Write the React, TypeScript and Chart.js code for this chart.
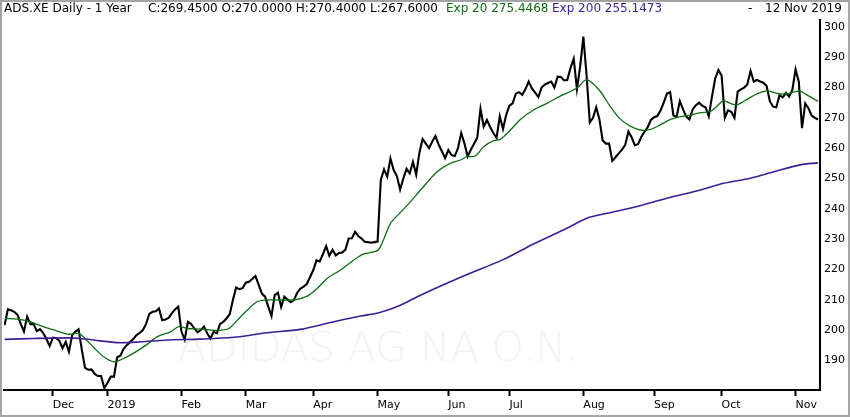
import React, { useEffect, useRef } from "react";
import { Chart, registerables } from "chart.js";

Chart.register(...registerables);

// Daily close, one value per trading day (12 Nov 2018 .. 12 Nov 2019)
const closeValues: number[] = [
  201.6, 206.8, 206.5, 206.0, 205.0, 202.0, 199.5, 204.4, 201.9, 202.0,
  199.6, 200.3, 199.0, 197.0, 194.7, 197.5, 197.3, 196.5, 194.0, 196.1,
  192.8, 198.3, 199.5, 200.2, 193.5, 187.5, 186.9, 187.0, 185.5, 184.8,
  184.8, 180.8, 182.6, 184.6, 184.6, 191.0, 191.5, 193.8, 195.0, 196.0,
  197.0, 198.3, 199.0, 200.0, 202.0, 205.3, 206.0, 206.2, 207.1, 203.2,
  203.5, 204.0, 205.5, 206.8, 207.7, 199.5, 196.8, 202.7, 202.0, 200.5,
  199.2, 200.0, 201.1, 198.9, 197.2, 199.4, 198.9, 202.0, 202.7, 203.8,
  205.2, 209.9, 214.0, 213.5, 213.8, 215.6, 215.9, 216.8, 217.8, 215.0,
  212.0, 211.0, 207.7, 204.6, 211.5, 212.3, 207.6, 211.0, 210.0, 209.2,
  210.0, 212.3, 213.7, 214.3, 215.2, 217.5, 219.8, 223.0, 222.6, 225.0,
  227.7, 224.5, 226.5, 224.6, 225.4, 225.6, 226.5, 230.2, 230.3, 232.4,
  231.0, 230.2, 229.1, 229.0, 228.8, 229.0, 229.2, 249.5, 253.0, 250.6,
  256.6, 252.8, 250.8, 246.3, 250.0, 253.2, 251.7, 255.5, 251.3, 258.5,
  263.0, 261.5, 260.0, 262.2, 264.0, 261.1, 259.0, 256.7, 259.4, 257.7,
  257.4, 260.0, 265.0, 261.6, 257.3, 259.5, 261.5, 263.5, 273.0, 267.1,
  269.3, 267.0, 265.0, 263.4, 270.5, 266.3, 271.0, 274.0, 274.8, 278.0,
  278.5, 277.6, 279.5, 282.0, 279.7, 278.3, 276.9, 280.0, 281.0, 281.5,
  282.0, 280.0, 283.6, 283.5, 282.4, 282.5, 286.5, 289.5, 279.5, 286.9,
  296.8, 284.0, 268.5, 270.0, 273.5, 269.5, 262.5, 261.5, 261.5, 255.8,
  257.0, 258.3, 259.5, 261.0, 265.5, 263.6, 261.0, 261.3, 263.7, 265.4,
  266.9, 269.3, 270.2, 270.6, 272.4, 275.0, 278.0, 278.5, 270.8, 270.4,
  275.5, 272.8, 270.4, 269.5, 272.8, 274.2, 275.0, 274.0, 273.5, 270.5,
  277.0, 283.0, 285.8, 284.0, 270.0, 272.5, 272.0, 270.0, 278.7, 279.4,
  280.0, 281.0, 285.5, 282.0, 282.5, 282.0, 281.6, 280.5, 275.5, 273.7,
  273.5, 277.5, 276.8, 278.2, 277.0, 279.2, 286.0, 282.0, 266.6, 274.8,
  273.2, 270.8, 270.0, 269.45,
];

// Exp 20 line, read at these trading-day positions
const ema20Index: number[] = [
  0, 4, 8, 12, 16, 20, 23, 25, 28, 31, 34, 36, 40, 44, 47.5, 51.6, 54.2, 57,
  61, 66, 69.7, 73.4, 78.5, 81.7, 85.8, 89.9, 94.1, 97.2, 100.3, 104.5, 108.6,
  111.7, 115.9, 117.4, 120, 123.1, 126.2, 129.3, 134.5, 138.6, 141.8, 143.8,
  146.4, 149, 152.1, 154.2, 157.3, 160.4, 164.5, 168.7, 172.8, 176, 178.5,
  180.6, 182.2, 185.3, 188.4, 191.5, 194.6, 197.7, 200.8, 203.9, 207.1, 210.2,
  213.3, 216.4, 219.5, 221.6, 223.6, 225.7, 227.8, 230.9, 234, 237.1, 240.2,
  243.3, 247.3, 249.5, 253,
];
const ema20Values: number[] = [
  203.8, 203.6, 202.7, 201.1, 199.8, 198.6, 198.9, 197.2, 193.9, 191.0, 189.5,
  190.1, 192.3, 195.0, 197.8, 199.4, 201.1, 200.5, 200.3, 199.9, 200.5, 204.4,
  209.3, 209.9, 209.9, 209.9, 211.2, 213.7, 217.0, 219.8, 223.1, 225.1, 226.2,
  228.6, 235.2, 238.8, 242.3, 246.1, 252.2, 255.0, 256.1, 257.2, 257.4, 260.5,
  262.5, 262.9, 266.0, 269.5, 272.6, 274.8, 277.2, 278.7, 280.3, 282.5, 282.0,
  278.7, 273.7, 269.6, 267.3, 266.0, 266.2, 267.7, 269.5, 270.4, 270.9, 271.7,
  272.1, 273.9, 275.7, 274.8, 274.3, 276.1, 277.9, 278.9, 278.1, 277.9, 278.9,
  277.6, 275.45,
];

// Exp 200 line, read at these trading-day positions
const ema200Index: number[] = [
  0, 9, 19.5, 23.6, 29.8, 36, 42.3, 50.6, 61, 71.3, 81.7, 92, 102.4, 110.7,
  116.4, 123.1, 129.3, 142, 155.2, 164.5, 174.9, 181.1, 187.3, 195.7, 206,
  216.4, 223.6, 232, 239.2, 247.5, 253,
];
const ema200Values: number[] = [
  196.9, 197.2, 197.4, 197.2, 196.4, 195.8, 196.1, 196.7, 197.0, 197.6, 199.1,
  200.2, 202.7, 204.6, 205.7, 208.2, 211.5, 217.5, 223.3, 228.4, 233.6, 236.9,
  238.5, 240.5, 243.5, 246.2, 248.4, 250.1, 252.2, 254.5, 255.15,
];

// Month ticks (trading-day index of first session of each month)
const monthTickIndex: number[] = [15, 32, 55, 75, 96, 116, 138, 157, 180, 202, 223, 246];
const monthTickLabels: string[] = ["Dec", "2019", "Feb", "Mar", "Apr", "May", "Jun", "Jul", "Aug", "Sep", "Oct", "Nov"];
const priceTicks: number[] = [190, 200, 210, 220, 230, 240, 250, 260, 270, 280, 290, 300];

const FONT = "'DejaVu Sans', Verdana, sans-serif";

export default function App() {
  const ref = useRef<HTMLCanvasElement | null>(null);

  useEffect(() => {
    if (!ref.current) return;
    const chart = new Chart(ref.current, {
      type: "line",
      data: {
        datasets: [
          {
            label: "Exp 200",
            data: ema200Index.map((x, k) => ({ x, y: ema200Values[k] })),
            borderColor: "#3b1e96",
            borderWidth: 1.6,
            pointRadius: 0,
            tension: 0.3,
            fill: false,
          },
          {
            label: "Exp 20",
            data: ema20Index.map((x, k) => ({ x, y: ema20Values[k] })),
            borderColor: "#0d6e12",
            borderWidth: 1.3,
            pointRadius: 0,
            tension: 0.3,
            fill: false,
          },
          {
            label: "ADS.XE",
            data: closeValues.map((y, x) => ({ x, y })),
            borderColor: "#000000",
            borderWidth: 2.1,
            pointRadius: 0,
            tension: 0,
            fill: false,
          },
        ],
      },
      options: {
        animation: false,
        responsive: false,
        maintainAspectRatio: false,
        events: [],
        layout: { padding: { left: 4, top: 20, right: 0, bottom: 0 } },
        plugins: { legend: { display: false }, tooltip: { enabled: false }, title: { display: false } },
        scales: {
          x: {
            type: "linear",
            position: "bottom",
            min: -0.2,
            max: 253.6,
            afterBuildTicks: (s: any) => {
              s.ticks = monthTickIndex.map((v) => ({ value: v }));
            },
            afterFit: (s: any) => {
              s.height = 27;
            },
            grid: {
              drawOnChartArea: false,
              drawTicks: true,
              tickLength: 6,
              tickColor: "#000",
              tickWidth: 2,
              color: "#000",
            },
            border: { display: true, color: "#000", width: 2 },
            ticks: {
              autoSkip: false,
              maxRotation: 0,
              minRotation: 0,
              align: "start",
              padding: 3,
              color: "#000",
              font: { family: FONT, size: 11 },
              callback: (v: any) => {
                const k = monthTickIndex.indexOf(Number(v));
                return k >= 0 ? monthTickLabels[k] : "";
              },
            },
          },
          y: {
            type: "linear",
            position: "right",
            min: 180.2,
            max: 302.3,
            afterBuildTicks: (s: any) => {
              s.ticks = priceTicks.map((v) => ({ value: v }));
            },
            afterFit: (s: any) => {
              s.width = 30;
            },
            grid: { drawOnChartArea: false, drawTicks: false },
            border: { display: true, color: "#000", width: 2 },
            ticks: {
              padding: 4,
              color: "#000",
              font: { family: FONT, size: 11 },
              callback: (v: any) => String(v),
            },
          },
        },
      },
    });
    return () => chart.destroy();
  }, []);

  const base: React.CSSProperties = {
    position: "absolute",
    top: 1,
    fontFamily: FONT,
    fontSize: 12,
    whiteSpace: "pre",
    lineHeight: "14px",
  };

  return (
    <div
      style={{
        position: "fixed",
        left: 0,
        top: 0,
        width: 850,
        height: 417,
        background: "#ffffff",
        overflow: "hidden",
      }}
    >
      <div
        style={{
          position: "absolute",
          left: 178,
          top: 326,
          fontFamily: FONT,
          fontWeight: 200,
          fontSize: 41,
          lineHeight: "42px",
          color: "#f3f3f3",
          whiteSpace: "pre",
        }}
      >
        ADIDAS AG NA O.N.
      </div>
      <canvas
        ref={ref}
        width={850}
        height={417}
        style={{ position: "absolute", left: 0, top: 0, width: 850, height: 417, display: "block" }}
      />
      <div style={{ ...base, left: 4, color: "#000" }}>ADS.XE Daily - 1 Year</div>
      <div style={{ ...base, left: 148, color: "#000" }}>C:269.4500 O:270.0000 H:270.4000 L:267.6000</div>
      <div style={{ ...base, left: 446, color: "#0d6e12" }}>Exp 20 275.4468</div>
      <div style={{ ...base, left: 552, color: "#3b1e96" }}>Exp 200 255.1473</div>
      <div style={{ ...base, left: 748, color: "#000" }}>-</div>
      <div style={{ ...base, left: 765, color: "#000" }}>12 Nov 2019</div>
      <div
        style={{
          position: "absolute",
          left: 0,
          top: 0,
          width: 850,
          height: 417,
          boxSizing: "border-box",
          border: "2px solid #a4a4a4",
          pointerEvents: "none",
        }}
      />
    </div>
  );
}
